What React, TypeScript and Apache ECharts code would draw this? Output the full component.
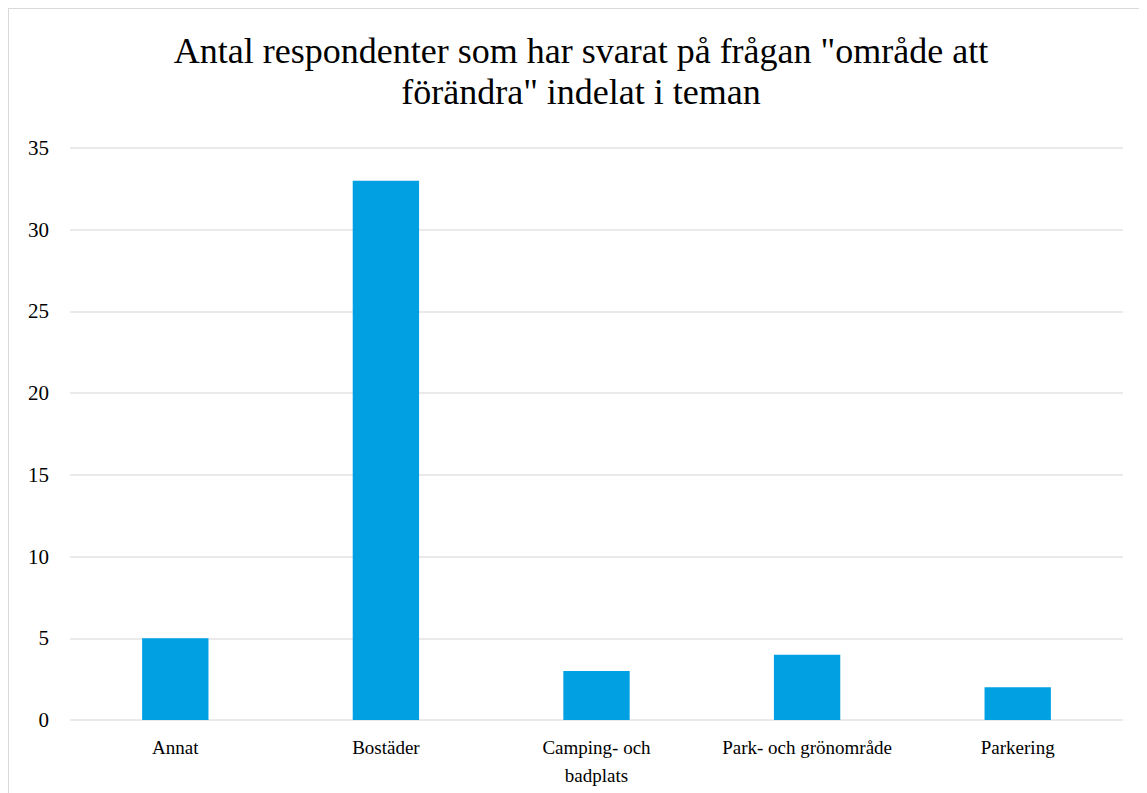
import React, { useEffect, useRef } from "react";
import * as echarts from "echarts";

const titleText = 'Antal respondenter som har svarat på frågan "område att\nförändra" indelat i teman';
const categories = ["Annat", "Bostäder", "Camping- och badplats", "Park- och grönområde", "Parkering"];
const values = [5, 33, 3, 4, 2];
const yMin = 0;
const yMax = 35;
const yInterval = 5;

const FONT = "'Liberation Serif', 'DejaVu Serif', serif";

export default function App() {
  const ref = useRef<HTMLDivElement>(null);
  useEffect(() => {
    if (!ref.current) return;
    const chart = echarts.init(ref.current, undefined, { renderer: "svg" });
    chart.setOption({
      animation: false,
      title: {
        text: titleText,
        left: 567,
        top: 16,
        textAlign: "center",
        textStyle: {
          fontFamily: FONT,
          fontSize: 36,
          fontWeight: "normal",
          color: "#000",
          lineHeight: 41,
        },
      },
      grid: { left: 61, right: 24, top: 139, bottom: 73, containLabel: false },
      xAxis: {
        type: "category",
        data: categories,
        axisLine: { show: false },
        axisTick: { show: false },
        axisLabel: {
          fontFamily: FONT,
          fontSize: 19,
          color: "#000",
          margin: 13,
          lineHeight: 28,
          interval: 0,
          formatter: (v: string) => (v === "Camping- och badplats" ? "Camping- och\nbadplats" : v),
        },
      },
      yAxis: {
        type: "value",
        min: yMin,
        max: yMax,
        interval: yInterval,
        axisLine: { show: false },
        axisTick: { show: false },
        axisLabel: { fontFamily: FONT, fontSize: 21, color: "#000", margin: 21 },
        splitLine: { lineStyle: { color: "#e3e3e3", width: 1.5 } },
      },
      series: [
        {
          type: "bar",
          data: values,
          barWidth: "31.5%",
          itemStyle: { color: "#00A0E3" },
        },
      ],
    });
    return () => chart.dispose();
  }, []);
  return (
    <div
      ref={ref}
      style={{
        width: 1139,
        height: 785,
        borderTop: "1px solid #d9d9d9",
        borderLeft: "1px solid #d9d9d9",
        boxSizing: "border-box",
      }}
    />
  );
}
